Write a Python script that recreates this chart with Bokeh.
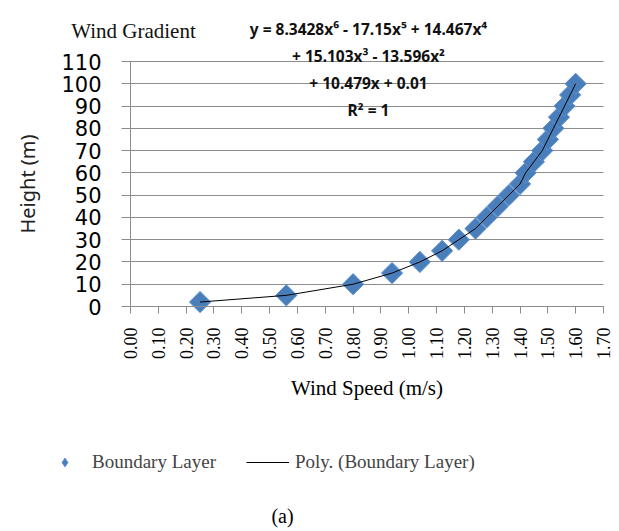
import math
from bokeh.plotting import figure
from bokeh.models import (Range1d, FixedTicker, PrintfTickFormatter, Label, Legend,
                          LegendItem, ColumnDataSource, LinearAxis, Grid)
from bokeh.embed import file_html
from bokeh.resources import INLINE

# ---- data ----
wind_speed = [0.25, 0.56, 0.80, 0.94, 1.04, 1.12, 1.18, 1.24, 1.28, 1.32, 1.36,
              1.40, 1.42, 1.45, 1.48, 1.50, 1.52, 1.54, 1.56, 1.58, 1.60]
height = [2, 5, 10, 15, 20, 25, 30, 35, 40, 45, 50,
          55, 60, 65, 70, 75, 80, 85, 90, 95, 100]
x_ticks = [0.0, 0.1, 0.2, 0.3, 0.4, 0.5, 0.6, 0.7, 0.8, 0.9, 1.0,
           1.1, 1.2, 1.3, 1.4, 1.5, 1.6, 1.7]
y_ticks = [0, 10, 20, 30, 40, 50, 60, 70, 80, 90, 100, 110]
chart_title = "Wind Gradient"
equation_lines = ["y = 8.3428x\u2076 - 17.15x\u2075 + 14.467x\u2074",
                  "+ 15.103x\u00b3 - 13.596x\u00b2",
                  "+ 10.479x + 0.01",
                  "R\u00b2 = 1"]
series_name = "Boundary Layer"
trend_name = "Poly. (Boundary Layer)"
x_title = "Wind Speed (m/s)"
y_title = "Height (m)"
caption = "(a)"

# ---- layout (page pixels) ----
W, H = 619, 531
FRAME_L, FRAME_R, FRAME_T, FRAME_B = 130, 603, 61, 306
X0, X1 = x_ticks[0], x_ticks[-1]
Y0, Y1 = y_ticks[0], y_ticks[-1]
SX = (FRAME_R - FRAME_L) / (X1 - X0)
SY = (FRAME_B - FRAME_T) / (Y1 - Y0)


def at(px, py):
    """page pixel -> data coordinates (frame spans the whole page)"""
    return X0 + (px - FRAME_L) / SX, Y0 + (FRAME_B - py) / SY


SERIF = "Liberation Serif"
SANS = "Noto Sans"
TICKSANS = "DejaVu Sans"
BLUE = "#4A7EBB"
EDGE = "#5B8FD0"
GRID = "#8C8C8C"

src = ColumnDataSource(dict(x=wind_speed, y=height))

p = figure(width=W, height=H, output_backend="svg", toolbar_location=None,
           x_range=Range1d(X0 - FRAME_L / SX, X1 + (W - FRAME_R) / SX),
           y_range=Range1d(Y0 - (H - FRAME_B) / SY, Y1 + FRAME_T / SY),
           x_axis_location=None, y_axis_location=None,
           min_border_left=0, min_border_right=0, min_border_top=0, min_border_bottom=0)
p.outline_line_color = None
p.grid.grid_line_color = None

p.add_layout(Grid(dimension=1, ticker=FixedTicker(ticks=y_ticks), cross_bounds=(X0, X1),
                  grid_line_color=GRID, grid_line_width=1))

xa = LinearAxis(fixed_location=Y0, bounds=(X0, X1), ticker=FixedTicker(ticks=x_ticks),
                formatter=PrintfTickFormatter(format="%.2f"))
xa.major_label_orientation = math.pi / 2
xa.major_label_text_font = SERIF
xa.major_label_text_font_size = "18px"
xa.major_label_text_color = "black"
xa.major_label_standoff = 14
xa.major_tick_out = 7
xa.major_tick_in = 0
xa.minor_tick_line_color = None
xa.axis_line_color = GRID
xa.major_tick_line_color = GRID
xa.axis_label = x_title
xa.axis_label_text_font = SERIF
xa.axis_label_text_font_size = "21px"
xa.axis_label_text_font_style = "normal"
xa.axis_label_text_color = "black"
xa.axis_label_standoff = 14
p.add_layout(xa, "below")

ya = LinearAxis(fixed_location=X0, bounds=(Y0, Y1), ticker=FixedTicker(ticks=y_ticks))
ya.major_label_text_font = TICKSANS
ya.major_label_text_font_size = "21px"
ya.major_label_text_color = "black"
ya.major_label_standoff = 20
ya.major_tick_out = 9
ya.major_tick_in = 0
ya.minor_tick_line_color = None
ya.axis_line_color = GRID
ya.major_tick_line_color = GRID
ya.axis_label = y_title
ya.axis_label_text_font = SANS
ya.axis_label_text_font_size = "20px"
ya.axis_label_text_font_style = "normal"
ya.axis_label_text_color = "#222222"
ya.axis_label_standoff = 17
p.add_layout(ya, "left")

pts_r = p.scatter("x", "y", source=src, marker="square", size=15, angle=math.pi / 4,
                  fill_color=BLUE, line_color=EDGE, line_width=1)
line_r = p.line("x", "y", source=src, line_color="black", line_width=1)
# hidden twin of the series, used only for its diamond legend symbol
swatch_r = p.scatter("x", "y", source=src, marker="diamond", size=15,
                     fill_color=BLUE, line_color=EDGE, line_width=1, visible=False)

# chart title
tx, ty = at(133, 30)
p.add_layout(Label(x=tx, y=ty, text=chart_title, text_font=SERIF, text_font_size="21px",
                   text_align="center", text_baseline="alphabetic", text_color="#111111"))

# trendline equation
for t, py in zip(equation_lines, [28, 55, 82, 109]):
    ex, ey = at(368, py)
    p.add_layout(Label(x=ex, y=ey, text=t, text_font=SANS, text_font_size="15.5px",
                       text_font_style="bold", text_align="center",
                       text_baseline="alphabetic", text_color="#111111"))

# caption
cx, cy = at(282, 515)
p.add_layout(Label(x=cx, y=cy, text=caption, text_font=SERIF, text_font_size="20px",
                   text_align="center", text_baseline="middle", text_color="black"))

legend = Legend(items=[LegendItem(label=series_name, renderers=[swatch_r]),
                       LegendItem(label=trend_name, renderers=[line_r])],
                orientation="horizontal", location=(43, H - 473),
                label_text_font=SERIF, label_text_font_size="19px",
                glyph_width=43, glyph_height=22, label_standoff=6, spacing=30,
                padding=0, margin=0, border_line_color=None,
                background_fill_alpha=0)
p.add_layout(legend, "center")

open("out.html", "w").write(file_html(p, INLINE))
